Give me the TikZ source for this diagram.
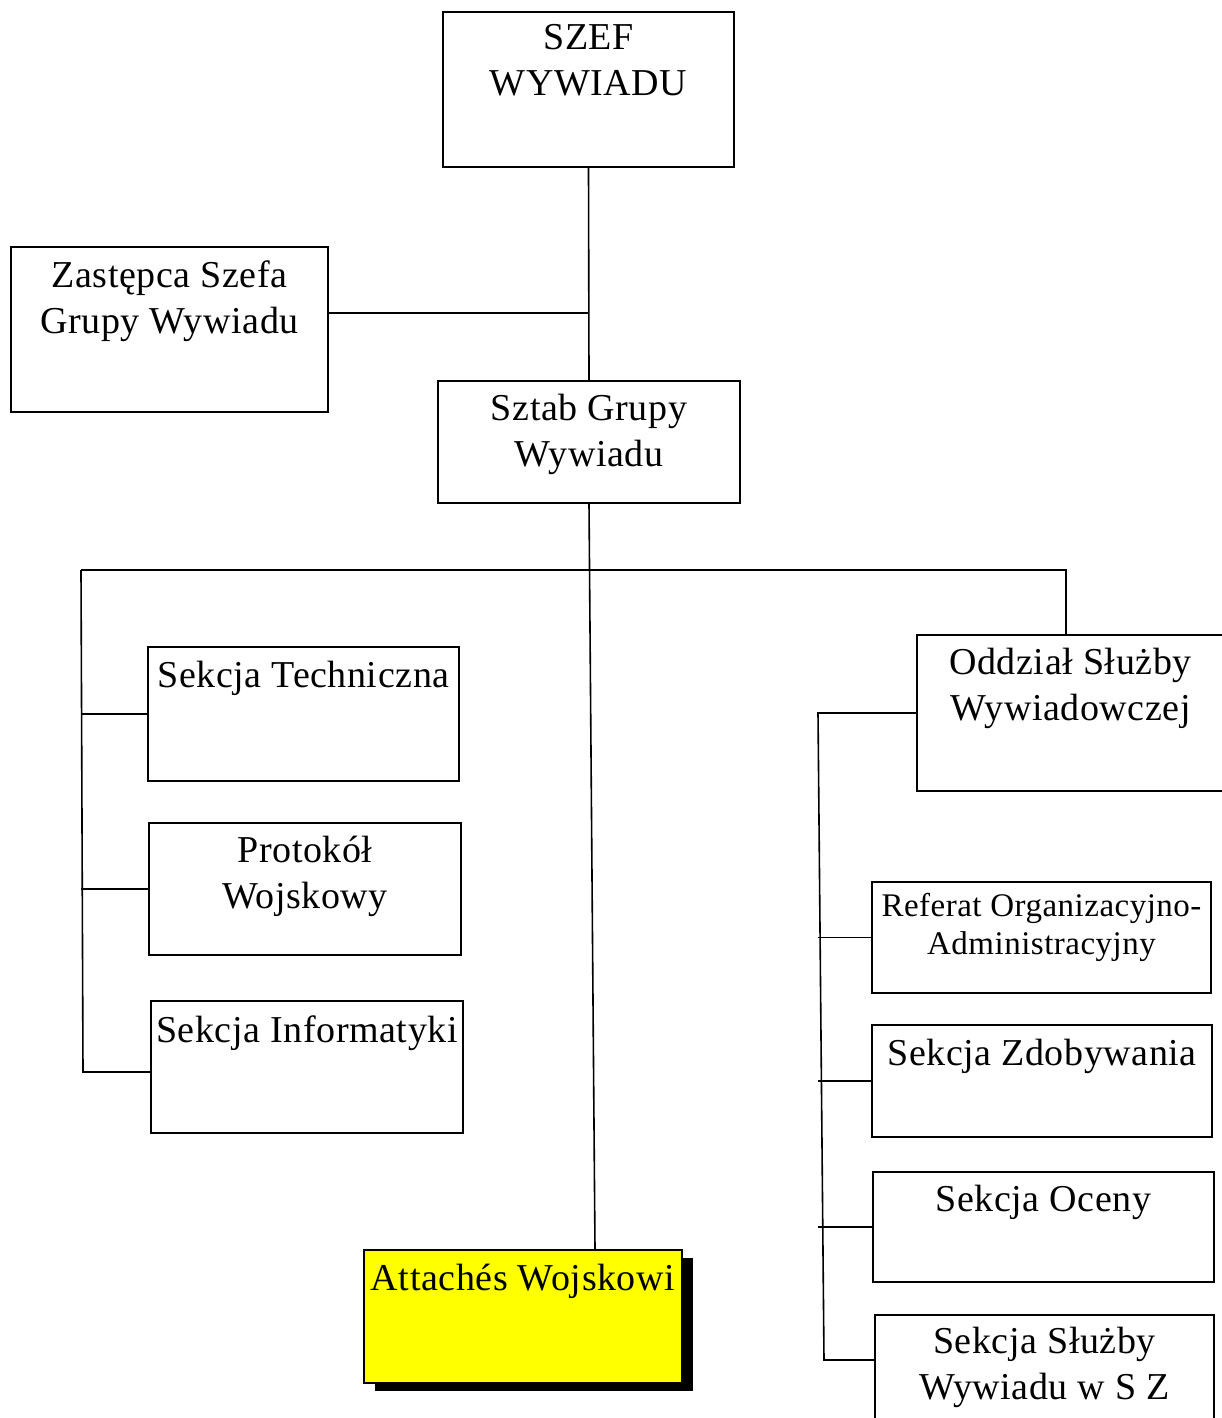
\documentclass[tikz,border=0pt]{standalone}
\usepackage{fontspec}
\setmainfont{Liberation Serif}[LetterSpace=1.5]
\usetikzlibrary{shadows}
\definecolor{boxyellow}{RGB}{255,255,0}
\begin{document}
\begin{tikzpicture}[x=1pt,y=-1pt,
  box/.style={draw, line width=1.6pt, rectangle, inner sep=0pt},
  lbl/.style={anchor=north, align=center, inner sep=0pt, font=\fontsize{38}{46}\selectfont},
  smalllbl/.style={lbl, font=\fontsize{33}{38}\selectfont},
  wire/.style={line width=1.6pt}]
\useasboundingbox (0,0) rectangle (1221,1418);
\fill[white] (0,0) rectangle (1221,1418);

% boxes
\node[box, minimum width=291pt, minimum height=155pt] (szef)  at (588.5,89.5) {};
\node[box, minimum width=317pt, minimum height=165pt] (zast)  at (169.5,329.5) {};
\node[box, minimum width=302pt, minimum height=122pt] (sztab) at (589,442) {};
\node[box, minimum width=311pt, minimum height=134pt] (tech)  at (303.5,714) {};
\node[box, minimum width=312pt, minimum height=132pt] (prot)  at (305,889) {};
\node[box, minimum width=312pt, minimum height=132pt] (info)  at (307,1067) {};
\node[box, fill=boxyellow, minimum width=318pt, minimum height=133pt,
      drop shadow={shadow xshift=11pt, shadow yshift=-8pt, fill=black, opacity=1}] (att) at (523,1316.5) {};
\node[box, minimum width=307pt, minimum height=156pt] (odd)   at (1070.5,713) {};
\node[box, minimum width=339pt, minimum height=111pt] (ref)   at (1041.5,937.5) {};
\node[box, minimum width=340pt, minimum height=112pt] (zdob)  at (1042,1081) {};
\node[box, minimum width=341pt, minimum height=110pt] (ocen)  at (1043.5,1227) {};
\node[box, minimum width=339pt, minimum height=111pt] (szsz)  at (1044.5,1370.5) {};

% labels
\node[lbl] (szefT)  at ([yshift=-13pt]szef.north)  {SZEF\\WYWIADU};
\node[lbl] (zastT)  at ([yshift=-14pt]zast.north)  {Zastępca Szefa\\Grupy Wywiadu};
\node[lbl] (sztabT) at ([yshift=-14pt]sztab.north) {Sztab Grupy\\Wywiadu};
\node[lbl] (techT)  at ([yshift=-15pt]tech.north)  {Sekcja Techniczna};
\node[lbl] (protT)  at ([yshift=-14pt]prot.north)  {Protokół\\Wojskowy};
\node[lbl] (infoT)  at ([yshift=-15pt]info.north)  {Sekcja Informatyki};
\node[lbl] (attT)   at ([yshift=-15pt]att.north)   {Attachés Wojskowi};
\node[lbl] (oddT)   at ([yshift=-14pt]odd.north)   {Oddział Służby\\Wywiadowczej};
\node[smalllbl] (refT) at ([yshift=-12pt]ref.north) {Referat Organizacyjno-\\Administracyjny};
\node[lbl] (zdobT)  at ([yshift=-15pt]zdob.north)  {Sekcja Zdobywania};
\node[lbl] (ocenT)  at ([yshift=-14pt]ocen.north)  {Sekcja Oceny};
\node[lbl] (szszT)  at ([yshift=-13pt]szsz.north)  {Sekcja Służby\\Wywiadu w S Z};

% junctions
\coordinate (jz) at (588,313);
\coordinate (bL) at (81,570);
\coordinate (bLend) at (83,1072);
\coordinate (bR) at (1066,570);
\coordinate (rtop) at (818,713);
\coordinate (rbot) at (824,1360);

% connectors
\draw[wire] (szef.south) -- (sztab.north);
\draw[wire] (zast.east |- jz) -- (jz);
\draw[wire] (sztab.south) -- ([xshift=6pt]sztab.south |- att.north);
\draw[wire] (bL) -- (bR) -- (bR |- odd.north);
\draw[wire] (bL) -- (bLend) -- (bLend -| info.west);
\draw[wire] (tech.west) -- (tech.west -| bL);
\draw[wire] (prot.west) -- (prot.west -| bL);
\draw[wire] (odd.west) -- (rtop) -- (rbot) -- (rbot -| szsz.west);
\draw[wire] (ref.west) -- (ref.west -| rtop);
\draw[wire] (zdob.west) -- (zdob.west -| rtop);
\draw[wire] (ocen.west) -- (ocen.west -| rtop);
\end{tikzpicture}
\end{document}
